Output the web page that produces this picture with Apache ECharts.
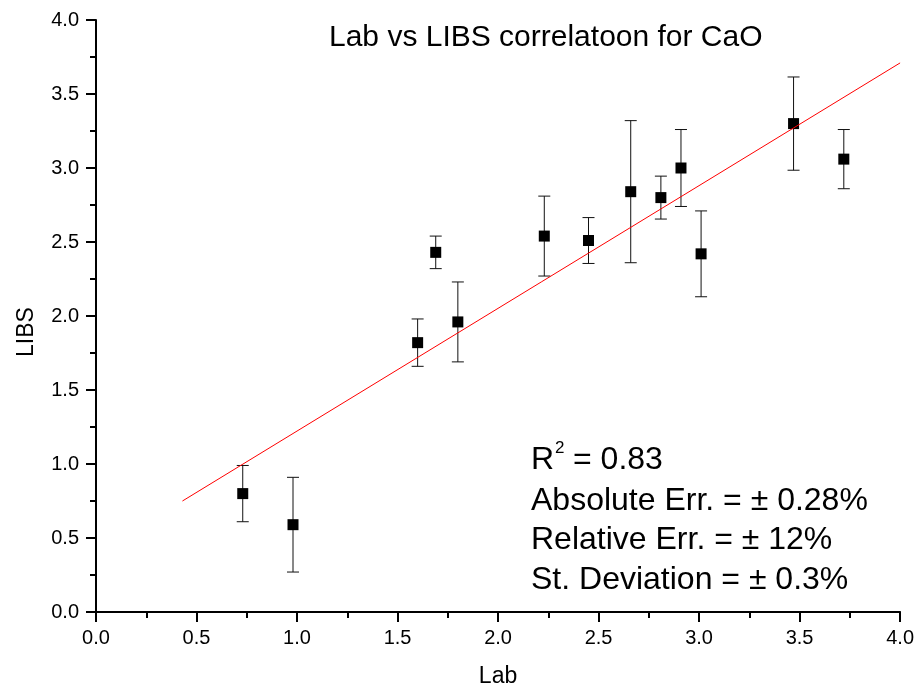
<!DOCTYPE html>
<html><head><meta charset="utf-8">
<script src="https://cdn.jsdelivr.net/npm/echarts@6/dist/echarts.min.js"></script>
<style>html,body{margin:0;padding:0;background:#fff}#c{width:917px;height:693px}</style>
</head><body><div id="c"></div>
<script>
// Data
const labX    = [0.73, 0.98, 1.60, 1.69, 1.80, 2.23, 2.45, 2.66, 2.81, 2.91, 3.01, 3.47, 3.72];
const libsY   = [0.80, 0.59, 1.82, 2.43, 1.96, 2.54, 2.51, 2.84, 2.80, 3.00, 2.42, 3.30, 3.06];
const libsErr = [0.19, 0.32, 0.16, 0.11, 0.27, 0.27, 0.155, 0.48, 0.145, 0.26, 0.29, 0.315, 0.20];
const fitX = [0.43, 4.0];
const fitY = [0.75, 3.71];
const titleText = 'Lab vs LIBS correlatoon for CaO';
const statLines = ['Absolute Err. = \u00b1 0.28%', 'Relative Err. = \u00b1 12%', 'St. Deviation = \u00b1 0.3%'];

const FONT = '"Liberation Sans", Arial, sans-serif';
const points = labX.map((x, i) => [x, libsY[i]]);
const errData = labX.map((x, i) => [x, libsY[i] - libsErr[i], libsY[i] + libsErr[i]]);
const fitData = fitX.map((x, i) => [x, fitY[i]]);

const chart = echarts.init(document.getElementById('c'), null, {renderer: 'canvas'});
const axisCommon = {
  min: 0, max: 4, interval: 0.5,
  axisLine: {show: true, onZero: false, lineStyle: {color: '#000', width: 2}},
  axisTick: {show: true, inside: false, length: 10, lineStyle: {color: '#000', width: 2}},
  minorTick: {show: true, splitNumber: 2, length: 6, lineStyle: {color: '#000', width: 2}},
  splitLine: {show: false},
  axisLabel: {color: '#000', fontSize: 20, fontFamily: FONT, formatter: v => v.toFixed(1)},
  nameTextStyle: {color: '#000', fontSize: 23, fontFamily: FONT}
};
chart.setOption({
  animation: false,
  backgroundColor: '#fff',
  title: {
    text: titleText, left: 329, top: 23, padding: 0,
    textStyle: {color: '#000', fontSize: 30, fontWeight: 'normal', fontFamily: FONT}
  },
  grid: {left: 96, right: 16, top: 20, bottom: 76, containLabel: false},
  xAxis: Object.assign({}, axisCommon, {
    type: 'value', name: 'Lab', nameLocation: 'middle', nameGap: 53,
    axisLabel: Object.assign({}, axisCommon.axisLabel, {margin: 16})
  }),
  yAxis: Object.assign({}, axisCommon, {
    type: 'value', name: 'LIBS', nameLocation: 'middle', nameGap: 58,
    axisLabel: Object.assign({}, axisCommon.axisLabel, {margin: 17}),
    nameTextStyle: Object.assign({}, axisCommon.nameTextStyle, {padding: [0, 32, 0, 0]})
  }),
  graphic: [
    {type: 'text', left: 531, top: 444, style: {text: 'R', fontSize: 32, fontFamily: FONT, fill: '#000'}},
    {type: 'text', left: 555, top: 440, style: {text: '2', fontSize: 17, fontFamily: FONT, fill: '#000'}},
    {type: 'text', left: 573, top: 444, style: {text: '= 0.83', fontSize: 32, fontFamily: FONT, fill: '#000'}},
    {type: 'text', left: 531, top: 485, style: {text: statLines[0], fontSize: 32, fontFamily: FONT, fill: '#000'}},
    {type: 'text', left: 531, top: 524, style: {text: statLines[1], fontSize: 32, fontFamily: FONT, fill: '#000'}},
    {type: 'text', left: 531, top: 564, style: {text: statLines[2], fontSize: 32, fontFamily: FONT, fill: '#000'}}
  ],
  series: [
    {
      type: 'custom', z: 2,
      data: errData,
      encode: {x: 0, y: [1, 2]},
      renderItem: function (params, api) {
        const x = api.value(0);
        const lo = api.coord([x, api.value(1)]);
        const hi = api.coord([x, api.value(2)]);
        const cap = 6;
        const st = {stroke: '#111', lineWidth: 1};
        return {type: 'group', children: [
          {type: 'line', shape: {x1: lo[0], y1: lo[1], x2: hi[0], y2: hi[1]}, style: st},
          {type: 'line', shape: {x1: lo[0] - cap, y1: lo[1], x2: lo[0] + cap, y2: lo[1]}, style: st},
          {type: 'line', shape: {x1: hi[0] - cap, y1: hi[1], x2: hi[0] + cap, y2: hi[1]}, style: st}
        ]};
      }
    },
    {
      type: 'scatter', z: 3, data: points,
      symbol: 'rect', symbolSize: 11,
      itemStyle: {color: '#000', opacity: 1}
    },
    {
      type: 'line', z: 4, data: fitData, showSymbol: false, symbol: 'none',
      lineStyle: {color: '#ff0000', width: 1}
    }
  ]
});
</script>
</body></html>
